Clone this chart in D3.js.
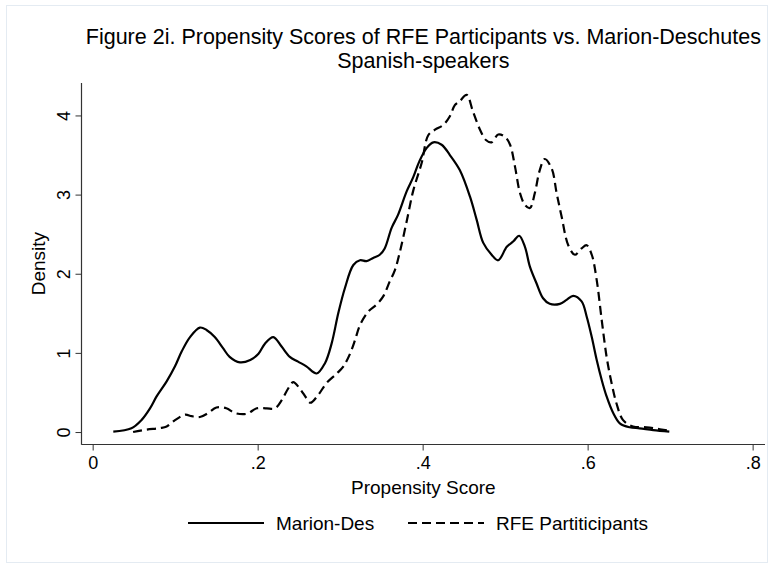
<!DOCTYPE html>
<html><head><meta charset="utf-8">
<script src="https://cdn.jsdelivr.net/npm/d3@7"></script>
<style>body{margin:0;background:#fff}svg{display:block}text{font-family:"Liberation Sans",Arial,sans-serif;fill:#000}</style>
</head><body>
<script>
// ---- data ----
const titleLines = ["Figure 2i. Propensity Scores of RFE Participants vs. Marion-Deschutes", "Spanish-speakers"];
const xLabel = "Propensity Score";
const yLabel = "Density";
const xTicks = [0, 0.2, 0.4, 0.6, 0.8];
const xTickLabels = ["0", ".2", ".4", ".6", ".8"];
const yTicks = [0, 1, 2, 3, 4];
const seriesNames = ["Marion-Des", "RFE Partiticipants"];

// Marion-Des (solid): [score, density]
const marionX = [0.025,0.047,0.059,0.0695,0.0775,0.0897,0.0998,0.108,0.118,0.130,0.138,0.148,0.158,0.166,0.1785,0.191,0.201,0.209,0.219,0.229,0.239,0.249,0.259,0.2715,0.2816,0.2897,0.2977,0.3058,0.316,0.324,0.332,0.340,0.348,0.354,0.3624,0.370,0.3806,0.3886,0.396,0.405,0.413,0.423,0.433,0.445,0.4575,0.4655,0.4735,0.4836,0.4916,0.502,0.510,0.517,0.524,0.530,0.538,0.546,0.554,0.5664,0.5745,0.5825,0.5927,0.5988,0.605,0.611,0.617,0.623,0.631,0.639,0.651,0.663,0.6795,0.699];
const marionY = [0.004,0.047,0.15,0.30,0.45,0.64,0.83,1.02,1.20,1.32,1.29,1.20,1.06,0.95,0.88,0.91,0.99,1.12,1.20,1.08,0.95,0.89,0.83,0.74,0.87,1.12,1.50,1.82,2.11,2.17,2.16,2.20,2.24,2.32,2.58,2.74,3.04,3.22,3.42,3.59,3.66,3.63,3.50,3.31,2.97,2.68,2.39,2.24,2.17,2.34,2.41,2.48,2.34,2.09,1.88,1.69,1.62,1.62,1.67,1.72,1.65,1.46,1.20,0.91,0.66,0.45,0.24,0.11,0.06,0.047,0.025,0.005];

// RFE Partiticipants (dashed)
const rfeX = [0.049,0.065,0.0816,0.0897,0.0998,0.112,0.12,0.130,0.140,0.150,0.162,0.1725,0.1867,0.199,0.211,0.221,0.229,0.237,0.243,0.251,0.259,0.264,0.2735,0.2836,0.296,0.304,0.312,0.318,0.324,0.334,0.344,0.352,0.360,0.3665,0.3725,0.3806,0.3886,0.3988,0.4068,0.415,0.425,0.433,0.439,0.445,0.4533,0.461,0.4695,0.4767,0.4836,0.4916,0.4998,0.506,0.512,0.518,0.524,0.530,0.536,0.542,0.548,0.5564,0.5624,0.5685,0.5765,0.5846,0.5927,0.5988,0.605,0.611,0.617,0.623,0.629,0.635,0.643,0.655,0.6715,0.6876,0.699];
const rfeY = [0.0,0.03,0.05,0.07,0.15,0.22,0.20,0.19,0.24,0.31,0.30,0.24,0.23,0.30,0.30,0.30,0.40,0.55,0.63,0.55,0.43,0.37,0.47,0.62,0.74,0.83,0.99,1.16,1.35,1.52,1.61,1.71,1.90,2.05,2.28,2.66,3.05,3.40,3.75,3.82,3.88,3.99,4.13,4.18,4.26,4.05,3.82,3.69,3.66,3.76,3.73,3.63,3.35,3.02,2.87,2.83,3.02,3.31,3.45,3.33,3.02,2.72,2.36,2.24,2.32,2.36,2.24,1.92,1.42,0.95,0.62,0.36,0.15,0.07,0.06,0.035,0.016];

// ---- layout ----
const W = 774, H = 568;
const svg = d3.select("body").append("svg").attr("width", W).attr("height", H);

svg.append("rect").attr("x", 6.5).attr("y", 5.5).attr("width", W - 13).attr("height", H - 11)
  .attr("fill", "#fff").attr("stroke", "#e4ebf2").attr("stroke-width", 1);

const x = d3.scaleLinear().domain([-0.0133, 0.815]).range([81.7, 765]);
const y = d3.scaleLinear().domain([-0.155, 4.41]).range([444.3, 83]);

// axis lines
const axisColor = "#333";
svg.append("line").attr("x1", 81.5).attr("x2", 81.5).attr("y1", y.range()[1]).attr("y2", y.range()[0] + 0.5)
  .attr("stroke", axisColor).attr("stroke-width", 1.2);
svg.append("line").attr("x1", 81.5).attr("x2", x.range()[1]).attr("y1", 444.5).attr("y2", 444.5)
  .attr("stroke", axisColor).attr("stroke-width", 1.2);

// x axis ticks
const xa = svg.append("g").attr("transform", "translate(0,444.5)")
  .call(d3.axisBottom(x).tickValues(xTicks).tickFormat((d, i) => xTickLabels[i]).tickSize(6).tickPadding(6));
xa.select(".domain").remove();
xa.selectAll("line").attr("stroke", axisColor);
xa.selectAll("text").attr("font-size", 18).attr("font-family", "Liberation Sans, Arial, sans-serif").attr("fill", "#000");

// y axis ticks
const ya = svg.append("g").attr("transform", "translate(81.5,0)")
  .call(d3.axisLeft(y).tickValues(yTicks).tickFormat(d3.format("d")).tickSize(6).tickPadding(0));
ya.select(".domain").remove();
ya.selectAll("line").attr("stroke", axisColor);
ya.selectAll("text").attr("font-size", 18).attr("font-family", "Liberation Sans, Arial, sans-serif").attr("fill", "#000")
  .attr("x", 0).attr("dy", 0).attr("text-anchor", "middle")
  .attr("transform", "translate(-12,0) rotate(-90)");

// curves
const line = d3.line().x(d => x(d[0])).y(d => y(d[1])).curve(d3.curveCatmullRom.alpha(0.5));
const marion = marionX.map((v, i) => [v, marionY[i]]);
const rfe = rfeX.map((v, i) => [v, rfeY[i]]);
svg.append("path").datum(rfe).attr("d", line).attr("fill", "none").attr("stroke", "#000")
  .attr("stroke-width", 2.2).attr("stroke-dasharray", "9,5");
svg.append("path").datum(marion).attr("d", line).attr("fill", "none").attr("stroke", "#000")
  .attr("stroke-width", 2.2);

// titles
const cx = (x.range()[0] + x.range()[1]) / 2;
svg.append("text").attr("x", cx).attr("y", 44).attr("text-anchor", "middle").attr("font-size", 21.5).text(titleLines[0]);
svg.append("text").attr("x", cx).attr("y", 68).attr("text-anchor", "middle").attr("font-size", 21.5).text(titleLines[1]);
svg.append("text").attr("x", cx).attr("y", 494).attr("text-anchor", "middle").attr("font-size", 19).text(xLabel);
svg.append("text").attr("transform", `translate(45,${(y.range()[0] + y.range()[1]) / 2}) rotate(-90)`)
  .attr("text-anchor", "middle").attr("font-size", 19).text(yLabel);

// legend
const lg = svg.append("g").attr("transform", "translate(188,523)");
lg.append("line").attr("x1", 0).attr("x2", 76).attr("y1", 0).attr("y2", 0).attr("stroke", "#000").attr("stroke-width", 2.2);
lg.append("text").attr("x", 88).attr("y", 7).attr("font-size", 19).text(seriesNames[0]);
lg.append("line").attr("x1", 220).attr("x2", 296).attr("y1", 0).attr("y2", 0).attr("stroke", "#000").attr("stroke-width", 2.2).attr("stroke-dasharray", "9,5");
lg.append("text").attr("x", 308).attr("y", 7).attr("font-size", 19).text(seriesNames[1]);
</script>
</body></html>
